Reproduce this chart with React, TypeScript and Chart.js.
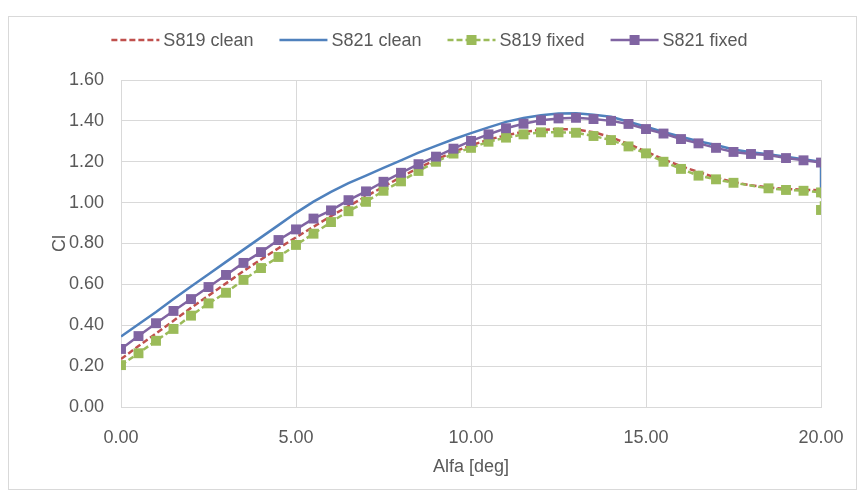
import React, { useEffect, useRef } from "react";
import { Chart, registerables } from "chart.js";

Chart.register(...registerables);

const alfa = [
  0, 0.5, 1, 1.5, 2, 2.5, 3, 3.5, 4, 4.5, 5, 5.5, 6, 6.5, 7, 7.5, 8, 8.5, 9, 9.5,
  10, 10.5, 11, 11.5, 12, 12.5, 13, 13.5, 14, 14.5, 15, 15.5, 16, 16.5, 17, 17.5,
  18, 18.5, 19, 19.5, 20,
];

const s819Clean = [
  0.235, 0.298, 0.36, 0.422, 0.485, 0.545, 0.605, 0.665, 0.722, 0.777, 0.83, 0.882,
  0.934, 0.983, 1.03, 1.078, 1.125, 1.17, 1.21, 1.248, 1.28, 1.308, 1.33, 1.346,
  1.356, 1.36, 1.358, 1.345, 1.32, 1.287, 1.25, 1.212, 1.178, 1.15, 1.122, 1.1,
  1.085, 1.074, 1.067, 1.063, 1.06,
];

const s821Clean = [
  0.345, 0.405, 0.465, 0.528, 0.59, 0.65, 0.71, 0.77, 0.83, 0.89, 0.95, 1.005,
  1.053, 1.095, 1.132, 1.17, 1.207, 1.245, 1.278, 1.31, 1.34, 1.368, 1.395, 1.414,
  1.428, 1.436, 1.437, 1.43, 1.42, 1.396, 1.371, 1.346, 1.322, 1.3, 1.282, 1.26,
  1.246, 1.237, 1.225, 1.212, 1.2,
];
const s821CleanEnd = 1.07;

const s819Fixed = [
  0.205, 0.263, 0.324, 0.382, 0.447, 0.507, 0.559, 0.622, 0.68, 0.734, 0.793, 0.848,
  0.905, 0.958, 1.004, 1.058, 1.104, 1.155, 1.2, 1.24, 1.268, 1.298, 1.318, 1.334,
  1.344, 1.344, 1.342, 1.326, 1.306, 1.275, 1.241, 1.2, 1.165, 1.132, 1.114, 1.097,
  null, 1.07, 1.062, 1.058, 1.05,
];
const s819FixedEnd = 0.964;

const s821Fixed = [
  0.284, 0.347, 0.41, 0.47, 0.528, 0.587, 0.646, 0.705, 0.758, 0.817, 0.869, 0.922,
  0.962, 1.012, 1.055, 1.102, 1.146, 1.188, 1.225, 1.264, 1.302, 1.334, 1.364, 1.386,
  1.403, 1.412, 1.415, 1.409, 1.4, 1.385, 1.36, 1.338, 1.311, 1.29, 1.268, 1.248,
  1.238, 1.233, 1.218, 1.207, 1.196,
];

const seriesNames = ["S819 clean", "S821 clean", "S819 fixed", "S821 fixed"];
const xTitle = "Alfa [deg]";
const yTitle = "Cl";

const FONT = "'Liberation Sans', Arial, sans-serif";
const TEXT = "#595959";
const GRID = "#d9d9d9";

const CW = 847;
const CH = 472;

const toPts = (ys: (number | null)[], end?: number) => {
  const pts = alfa.map((x, i) => ({ x, y: ys[i] }));
  if (end !== undefined) pts.push({ x: alfa[alfa.length - 1], y: end });
  return pts;
};

const legendPlugin = {
  id: "topLegend",
  afterDraw(chart: any) {
    const ctx = chart.ctx;
    const ds = chart.data.datasets;
    const sample = 48;
    const gap = 4;
    const spacing = 26;
    ctx.save();
    ctx.font = `18px ${FONT}`;
    const widths = ds.map((d: any) => ctx.measureText(d.label).width);
    const total =
      widths.reduce((a: number, w: number) => a + w + sample + gap, 0) +
      spacing * (ds.length - 1);
    let x = chart.width / 2 - total / 2 - 3;
    const y = 23;
    ds.forEach((d: any, i: number) => {
      ctx.strokeStyle = d.borderColor;
      ctx.lineWidth = d.borderWidth;
      ctx.setLineDash(d.borderDash || []);
      ctx.beginPath();
      ctx.moveTo(x, y);
      ctx.lineTo(x + sample, y);
      ctx.stroke();
      ctx.setLineDash([]);
      if (d.pointRadius > 0) {
        const s = 10;
        ctx.fillStyle = d.pointBackgroundColor;
        ctx.fillRect(x + sample / 2 - s / 2, y - s / 2, s, s);
      }
      ctx.fillStyle = TEXT;
      ctx.textBaseline = "middle";
      ctx.textAlign = "left";
      ctx.fillText(d.label, x + sample + gap, y + 1);
      x += sample + gap + widths[i] + spacing;
    });
    ctx.restore();
  },
};

export default function App() {
  const ref = useRef<HTMLCanvasElement>(null);

  useEffect(() => {
    if (!ref.current) return;
    const chart = new Chart(ref.current, {
      type: "line",
      data: {
        datasets: [
          {
            label: seriesNames[0],
            data: toPts(s819Clean),
            borderColor: "#c0504d",
            backgroundColor: "#c0504d",
            borderWidth: 2.5,
            borderDash: [6, 3],
            pointRadius: 0,
            order: 4,
          },
          {
            label: seriesNames[1],
            data: toPts(s821Clean, s821CleanEnd),
            borderColor: "#4f81bd",
            backgroundColor: "#4f81bd",
            borderWidth: 2.5,
            pointRadius: 0,
            order: 3,
          },
          {
            label: seriesNames[2],
            data: toPts(s819Fixed, s819FixedEnd),
            borderColor: "#9bbb59",
            backgroundColor: "#9bbb59",
            pointBackgroundColor: "#9bbb59",
            pointBorderColor: "#9bbb59",
            borderWidth: 2.5,
            borderDash: [6, 3],
            pointStyle: "rect",
            pointRadius: 7,
            pointBorderWidth: 0,
            spanGaps: true,
            order: 2,
          },
          {
            label: seriesNames[3],
            data: toPts(s821Fixed),
            borderColor: "#8064a2",
            backgroundColor: "#8064a2",
            pointBackgroundColor: "#8064a2",
            pointBorderColor: "#8064a2",
            borderWidth: 2.5,
            pointStyle: "rect",
            pointRadius: 7,
            pointBorderWidth: 0,
            order: 1,
          },
        ],
      },
      options: {
        animation: false,
        responsive: false,
        devicePixelRatio: 1,
        layout: { padding: { top: 63, right: 35, left: 0, bottom: 0 } },
        plugins: {
          legend: { display: false },
          tooltip: { enabled: false },
        },
        elements: { line: { tension: 0 } },
        scales: {
          x: {
            type: "linear",
            min: 0,
            max: 20,
            ticks: {
              stepSize: 5,
              color: TEXT,
              font: { family: FONT, size: 18 },
              padding: 20,
              maxRotation: 0,
              callback: (v: any) => Number(v).toFixed(2),
            },
            grid: { color: GRID, lineWidth: 1, drawTicks: false },
            border: { color: GRID, width: 1 },
            title: {
              display: true,
              text: xTitle,
              color: TEXT,
              font: { family: FONT, size: 18 },
              padding: { top: 0, bottom: 11 },
            },
            afterFit: (s: any) => {
              s.height = 82;
              s.paddingLeft = 0;
              s.paddingRight = 0;
            },
          },
          y: {
            min: 0,
            max: 1.6,
            ticks: {
              stepSize: 0.2,
              color: TEXT,
              font: { family: FONT, size: 18 },
              padding: 17,
              callback: (v: any) => Number(v).toFixed(2),
            },
            grid: { color: GRID, lineWidth: 1, drawTicks: false },
            border: { color: GRID, width: 1 },
            title: {
              display: true,
              text: yTitle,
              color: TEXT,
              font: { family: FONT, size: 18 },
              padding: { top: 40, bottom: 0 },
            },
            afterFit: (s: any) => {
              s.width = 112;
              s.paddingTop = 0;
              s.paddingBottom = 0;
            },
          },
        },
      },
      plugins: [legendPlugin],
    } as any);
    return () => chart.destroy();
  }, []);

  return (
    <div
      style={{
        position: "absolute",
        left: 8,
        top: 16,
        width: CW + 2,
        height: CH + 2,
        border: "1px solid #d9d9d9",
        boxSizing: "border-box",
        background: "#fff",
      }}
    >
      <canvas
        ref={ref}
        width={CW}
        height={CH}
        style={{ display: "block", width: CW, height: CH }}
      />
    </div>
  );
}
